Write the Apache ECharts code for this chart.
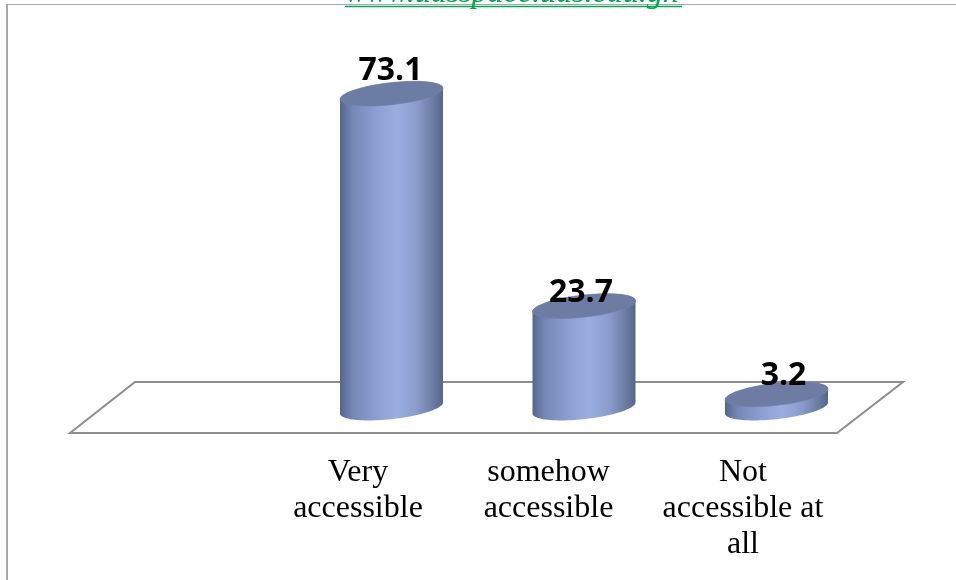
<!DOCTYPE html>
<html><head><meta charset="utf-8">
<style>html,body{margin:0;padding:0;background:#fff}#c{width:956px;height:580px}</style>
<script src="https://cdn.jsdelivr.net/npm/echarts@6/dist/echarts.min.js"></script>
</head><body><div id="c"></div>
<script>
var categories = ['Very\naccessible', 'somehow\naccessible', 'Not\naccessible at\nall'];
var values = [73.1, 23.7, 3.2];
var headerText = 'www.udsspace.uds.edu.gh';

var chart = echarts.init(document.getElementById('c'), null, {renderer: 'canvas'});
var A = 51.8, B = 11.1, TILT = 6.4 * Math.PI / 180;
var labelNudge = [{x: -1, y: -7}, {x: -3, y: 3}, {x: 7, y: -2}];
var labelShift = [67, 71, 67];

function ellipsePoint(cx, cy, t) {
  var px = A * Math.cos(t), py = B * Math.sin(t);
  return [cx + px*Math.cos(TILT) + py*Math.sin(TILT), cy - px*Math.sin(TILT) + py*Math.cos(TILT)];
}
function ringPoints(cx, cy) {
  var pts = [];
  for (var i = 0; i < 96; i++) pts.push(ellipsePoint(cx, cy, i / 96 * Math.PI * 2));
  return pts;
}
var T_RIGHT = Math.atan2(B * Math.sin(TILT), A * Math.cos(TILT));
function bodyPoints(cx, topY, baseY) {
  var pts = [];
  for (var i = 0; i <= 48; i++) pts.push(ellipsePoint(cx, topY, T_RIGHT - i / 48 * Math.PI));
  for (var j = 0; j <= 48; j++) pts.push(ellipsePoint(cx, baseY, T_RIGHT + Math.PI - j / 48 * Math.PI));
  return pts;
}
function renderCylinder(params, api) {
  var idx = params.dataIndex;
  var top = api.coord([api.value(0), api.value(1)]);
  var base = api.coord([api.value(0), 0]);
  var cx = top[0];
  var bodyFill = new echarts.graphic.LinearGradient(0, 0, 1, 0, [
    {offset: 0, color: '#55658c'},
    {offset: 0.12, color: '#7587b5'},
    {offset: 0.35, color: '#8d9fd2'},
    {offset: 0.55, color: '#9cade1'},
    {offset: 0.75, color: '#8a9bcb'},
    {offset: 0.92, color: '#68789f'},
    {offset: 1, color: '#56658a'}
  ]);
  return {
    type: 'group',
    children: [
      {type: 'polygon', shape: {points: bodyPoints(cx, top[1], base[1])}, style: {fill: bodyFill}},
      {type: 'polygon', shape: {points: ringPoints(cx, top[1])}, style: {fill: '#6c7ca3', stroke: '#7383aa', lineWidth: 0.5}},
      {type: 'text', style: {
        text: api.value(1).toFixed(1),
        x: cx + labelNudge[idx].x,
        y: top[1] + labelNudge[idx].y,
        align: 'center', verticalAlign: 'bottom',
        font: 'bold 32px "Open Sans"', fill: '#000'
      }, z2: 10}
    ]
  };
}
var rich = {};
labelShift.forEach(function (s, i) {
  rich['s' + i] = {padding: [0, s, 0, 0], fontFamily: '"Liberation Serif"', fontSize: 32, lineHeight: 36, color: '#000'};
});
var floorColor = '#8e8e8e', frameColor = '#a8a8a8', green = '#00a651';
chart.setOption({
  animation: false,
  backgroundColor: '#fff',
  grid: {left: 295.25, width: 577.5, top: 64, bottom: 172},
  xAxis: {
    type: 'category', data: categories,
    axisLine: {show: false}, axisTick: {show: false},
    axisLabel: {
      margin: 47, interval: 0, hideOverlap: false,
      formatter: function (v, i) {
        return v.split('\n').map(function (l) { return '{s' + i + '|' + l + '}'; }).join('\n');
      },
      rich: rich, verticalAlign: 'top'
    }
  },
  yAxis: {type: 'value', min: 0, max: 80, show: false},
  graphic: [
    {type: 'line', z: 0, shape: {x1: 6, y1: 4.5, x2: 956, y2: 4.5}, style: {stroke: frameColor, lineWidth: 1}},
    {type: 'line', z: 0, shape: {x1: 7, y1: 4, x2: 7, y2: 580}, style: {stroke: frameColor, lineWidth: 2}},
    {type: 'polygon', z: 0, shape: {points: [[135, 382], [903, 382], [837, 433], [70, 433]]},
      style: {fill: 'none', stroke: floorColor, lineWidth: 2}},
    {type: 'text', z: 1, style: {text: headerText, x: 345, y: -22, align: 'left', verticalAlign: 'top',
      font: 'italic 32px "Liberation Serif"', fill: green}},
    {type: 'rect', z: 1, shape: {x: 345, y: 5.7, width: 337, height: 1.6}, style: {fill: green}}
  ],
  series: [{
    type: 'custom',
    coordinateSystem: 'cartesian2d',
    clip: false,
    data: values.map(function (v, i) { return [i, v]; }),
    encode: {x: 0, y: 1},
    renderItem: renderCylinder
  }]
});
</script></body></html>
